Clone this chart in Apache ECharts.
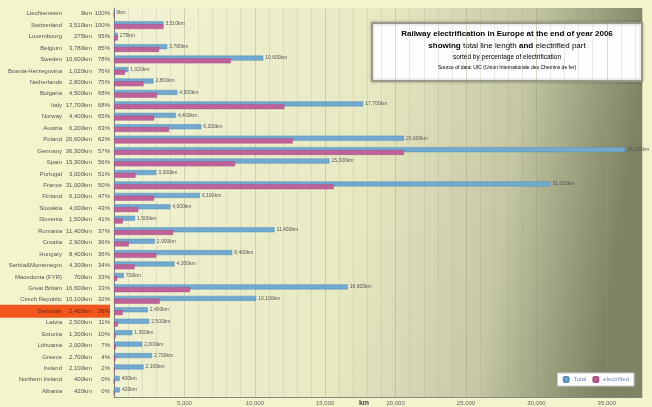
<!DOCTYPE html>
<html><head><meta charset="utf-8">
<script src="https://cdn.jsdelivr.net/npm/echarts@6/dist/echarts.min.js"></script>
<style>html,body{margin:0;padding:0;background:#f3f3cc;}#c{width:652px;height:407px;}</style>
</head><body><div id="c"></div>
<script>
const countries = ['Liechtenstein','Switzerland','Luxembourg','Belgium','Sweden','Bosnia-Herzegovina','Netherlands','Bulgaria','Italy','Norway','Austria','Poland','Germany','Spain','Portugal','France','Finland','Slovakia','Slovenia','Romania','Croatia','Hungary','Serbia&Montenegro','Macedonia (FYR)','Great Britain','Czech Republic','Denmark','Latvia','Estonia','Lithuania','Greece','Ireland','Northern Ireland','Albania'];
const totalKm = [9,3510,275,3780,10600,1020,2800,4500,17700,4400,6200,20600,36300,15300,3000,31000,6100,4000,1500,11400,2900,8400,4300,700,16600,10100,2400,2500,1300,2000,2700,2100,400,420];
const electrifiedKm = [9,3510,262,3200,8300,780,2100,3050,12100,2850,3900,12700,20600,8600,1530,15600,2850,1720,620,4200,1040,3000,1460,230,5400,3250,620,270,130,140,110,50,0,0];
const pctLabels = [100,100,95,85,78,76,75,68,68,65,63,62,57,56,51,50,47,43,41,37,36,36,34,33,33,32,26,11,10,7,4,2,0,0];
const highlighted = 'Denmark';
const xTicks = [0,5000,10000,15000,20000,25000,30000,35000];

const fmt = v => v.toLocaleString('en-US');
const chart = echarts.init(document.getElementById('c'));
const baseRich = {
  n:{width:62,align:'right',fontSize:6,color:'#555',fontFamily:'Liberation Sans'},
  k:{width:30,align:'right',fontSize:6,color:'#555',fontFamily:'Liberation Sans'},
  p:{width:18,align:'right',fontSize:6,color:'#555',fontFamily:'Liberation Sans'}
};
const rich = Object.assign({}, baseRich);
['n','k','p'].forEach(key=>{
  rich[key+'h'] = Object.assign({}, baseRich[key], {backgroundColor:'#f0561e', height:13, lineHeight:13, color:'#6b2a10'});
});

chart.setOption({
  animation:false,
  textStyle:{fontFamily:'Liberation Sans'},
  grid:{left:114,right:10,top:8,bottom:10,show:true,borderWidth:0,outerBoundsMode:'none',containLabel:false,
    backgroundColor:{type:'linear',x:0,y:0,x2:1,y2:0.2,colorStops:[
      {offset:0,color:'#f2f3d3'},{offset:0.5,color:'#e6e9c2'},{offset:0.78,color:'#c4c7a2'},{offset:1,color:'#7f8264'}]}},
  legend:{right:18,bottom:21,itemWidth:5,itemHeight:5,itemGap:6,backgroundColor:'#fff',borderColor:'#c9c9c9',borderWidth:1,padding:[3,5],
    textStyle:{fontSize:6,color:'#6a86b8'},data:['Total','electrified']},
  xAxis:{type:'value',min:xTicks[0],max:37500,interval:5000,
    name:'km',nameLocation:'middle',nameGap:3,nameMoveOverlap:false,
    nameTextStyle:{fontSize:7,fontWeight:'bold',color:'#444',verticalAlign:'top',padding:[0,28,0,0]},
    axisLine:{show:true,lineStyle:{color:'#888'}},axisTick:{show:false},
    axisLabel:{fontSize:6,color:'#666',margin:3,showMinLabel:false,showMaxLabel:false,formatter:v=>fmt(v)},
    splitLine:{show:true,lineStyle:{color:'rgba(150,150,120,0.35)',width:1}},
    minorTick:{show:false,splitNumber:5},
    minorSplitLine:{show:true,lineStyle:{color:'rgba(150,150,120,0.18)',width:1}}},
  yAxis:{type:'category',inverse:true,data:countries,
    axisLine:{show:true,lineStyle:{color:'#777'}},axisTick:{show:false},
    axisLabel:{margin:4,interval:0,rich:rich,formatter:(v,i)=>{
      const s = v===highlighted?'h':'';
      return '{n'+s+'|'+v+'}{k'+s+'|'+fmt(totalKm[i])+'km}{p'+s+'|'+pctLabels[i]+'%}';
    }}},
  series:[
    {name:'Total',type:'bar',data:totalKm,barWidth:5,barGap:'-45%',
     itemStyle:{color:'#72a9cf',borderColor:'#5b8fb8',borderWidth:0.5},
     label:{show:true,position:'right',distance:2,fontSize:5,color:'#555',formatter:p=>fmt(p.value)+'km'}},
    {name:'electrified',type:'bar',data:electrifiedKm,barWidth:5,barGap:'-45%',
     itemStyle:{color:'#bf6299',borderColor:'#a84f86',borderWidth:0.5}}
  ],
  graphic:[{type:'group',right:9,top:22,children:[
    {type:'rect',shape:{x:0,y:0,width:270,height:58},style:{fill:'#fdfdfd',stroke:'#9a9a8a',lineWidth:2,shadowBlur:3,shadowColor:'rgba(0,0,0,0.25)'}},
    {type:'text',x:135,y:5,style:{align:'center',verticalAlign:'top',
      text:'{b|Railway electrification in Europe at the end of year 2006}\n{b|showing }{t|total line length}{b| and }{e|electrified part}\n{s|sorted by percentage of electrification}\n{r|Source of data: UIC (Union Internationale des Chemins de fer)}',
      rich:{b:{fontSize:8,fontWeight:'bold',color:'#222',lineHeight:12,fontFamily:'Liberation Sans'},
            t:{fontSize:8,color:'#7ab8e8',lineHeight:12,fontFamily:'Liberation Sans'},
            e:{fontSize:8,color:'#ea7ec0',lineHeight:12,fontFamily:'Liberation Sans'},
            s:{fontSize:6.5,color:'#3a5aa0',lineHeight:11,fontFamily:'Liberation Sans'},
            r:{fontSize:5,color:'#3a5aa0',lineHeight:10,fontFamily:'Liberation Sans'}}}}
  ]}]
});
</script></body></html>
